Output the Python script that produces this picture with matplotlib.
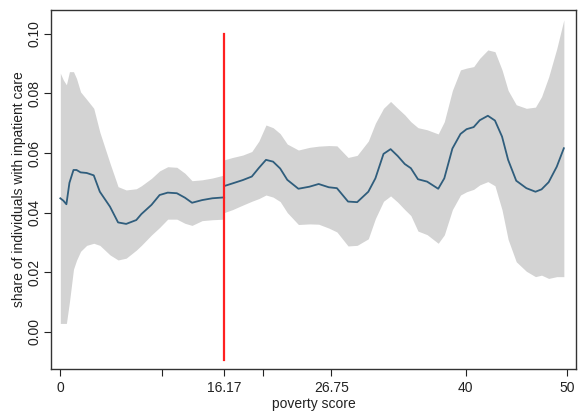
import matplotlib
matplotlib.use("Agg")
import matplotlib.pyplot as plt

plt.rcParams['font.family'] = ['Liberation Sans', 'DejaVu Sans']

# ---- data ----
cutoff = 16.17

x_left = [0, 0.3, 0.6, 0.9, 1.3, 1.6, 2.0, 2.6, 3.3, 3.9, 4.9, 5.7, 6.5, 7.5, 8.0,
          9.0, 9.8, 10.6, 11.5, 12.3, 13.0, 14.0, 15.0, 16.17]
mean_left = [0.0448, 0.0440, 0.0428, 0.0500, 0.0543, 0.0543, 0.0535, 0.0533, 0.0525,
             0.0470, 0.0420, 0.0367, 0.0362, 0.0375, 0.0395, 0.0426, 0.0459, 0.0467,
             0.0465, 0.0450, 0.0433, 0.0442, 0.0448, 0.0451]
upper_left = [0.0868, 0.0845, 0.0829, 0.0873, 0.0873, 0.0850, 0.0805, 0.0780, 0.0750,
              0.0670, 0.0566, 0.0487, 0.0476, 0.0480, 0.0490, 0.0515, 0.0540, 0.0554,
              0.0552, 0.0532, 0.0507, 0.0510, 0.0516, 0.0526]
lower_left = [0.0028, 0.0028, 0.0028, 0.0100, 0.0210, 0.0240, 0.0270, 0.0290, 0.0297,
              0.0290, 0.0258, 0.0241, 0.0247, 0.0274, 0.0290, 0.0325, 0.0350, 0.0378,
              0.0378, 0.0364, 0.0357, 0.0373, 0.0376, 0.0378]

x_right = [16.17, 17.0, 18.0, 18.9, 19.6, 20.3, 21.0, 21.7, 22.4, 23.5, 24.6, 25.5,
           26.5, 27.3, 28.4, 29.3, 30.4, 31.1, 31.9, 32.6, 33.3, 34.0, 34.6, 35.3,
           36.2, 37.3, 37.9, 38.7, 39.5, 40.1, 40.8, 41.4, 42.2, 42.9, 43.6, 44.2,
           45.0, 46.0, 46.9, 47.5, 48.2, 49.0, 49.7]
mean_right = [0.0489, 0.0498, 0.0509, 0.0521, 0.0550, 0.0577, 0.0571, 0.0548, 0.0510,
              0.0480, 0.0487, 0.0496, 0.0485, 0.0482, 0.0437, 0.0435, 0.0470, 0.0515,
              0.0597, 0.0613, 0.0590, 0.0563, 0.0549, 0.0512, 0.0504, 0.0480, 0.0515,
              0.0615, 0.0664, 0.0680, 0.0687, 0.0710, 0.0725, 0.0709, 0.0655, 0.0577,
              0.0507, 0.0482, 0.0470, 0.0478, 0.0502, 0.0554, 0.0616]
upper_right = [0.0577, 0.0585, 0.0593, 0.0605, 0.0640, 0.0694, 0.0685, 0.0665, 0.0630,
               0.0610, 0.0619, 0.0623, 0.0625, 0.0624, 0.0585, 0.0592, 0.0640, 0.0700,
               0.0750, 0.0773, 0.0750, 0.0728, 0.0705, 0.0685, 0.0678, 0.0664, 0.0705,
               0.0810, 0.0879, 0.0885, 0.0890, 0.0918, 0.0946, 0.0940, 0.0879, 0.0810,
               0.0762, 0.0750, 0.0754, 0.0789, 0.0855, 0.0950, 0.1047]
lower_right = [0.0400, 0.0410, 0.0425, 0.0438, 0.0447, 0.0459, 0.0452, 0.0437, 0.0400,
               0.0360, 0.0362, 0.0361, 0.0348, 0.0335, 0.0288, 0.0290, 0.0312, 0.0380,
               0.0438, 0.0456, 0.0435, 0.0410, 0.0390, 0.0338, 0.0326, 0.0297, 0.0325,
               0.0410, 0.0459, 0.0470, 0.0478, 0.0493, 0.0504, 0.0490, 0.0409, 0.0310,
               0.0235, 0.0203, 0.0185, 0.0190, 0.0179, 0.0185, 0.0185]

xticks = [0, 10, 16.17, 20, 26.75, 40, 50]
xticklabels = ["0", "", "16.17", "", "26.75", "40", "50"]
yticks = [0.00, 0.02, 0.04, 0.06, 0.08, 0.10]
yticklabels = ["0.00", "0.02", "0.04", "0.06", "0.08", "0.10"]
cut_line_y = [-0.0095, 0.10]

# ---- figure ----
fig = plt.figure(figsize=(5.78, 4.13), dpi=100)
ax = fig.add_axes([51 / 578, 1 - 369 / 413, (576 - 51) / 578, (369 - 10) / 413])

band_color = "#d3d3d3"
line_color = "#2f5d7c"

ax.fill_between(x_left, lower_left, upper_left, color=band_color, linewidth=0)
ax.fill_between(x_right, lower_right, upper_right, color=band_color, linewidth=0)
ax.plot(x_left, mean_left, color=line_color, linewidth=1.3)
ax.plot(x_right, mean_right, color=line_color, linewidth=1.3)
ax.plot([cutoff, cutoff], cut_line_y, color="#ff2020", linewidth=1.6)

ax.set_xlim(-0.92, 50.9)
ax.set_ylim(-0.0125, 0.108)

ax.set_xticks(xticks)
ax.set_xticklabels(xticklabels, fontsize=10)
ax.set_yticks(yticks)
ax.set_yticklabels(yticklabels, fontsize=10, rotation=90, va="center")
ax.tick_params(axis="both", direction="out", length=5, width=0.8, colors="#222222",
               labelcolor="#222222")
ax.tick_params(axis="x", pad=4)
ax.tick_params(axis="y", pad=2)

for s in ax.spines.values():
    s.set_color("#333333")
    s.set_linewidth(1.0)

ax.set_xlabel("poverty score", fontsize=10, labelpad=1, color="#222222")
ax.set_ylabel("share of individuals with inpatient care", fontsize=10, labelpad=1,
              color="#222222")

fig.savefig("out.png", dpi=100)
